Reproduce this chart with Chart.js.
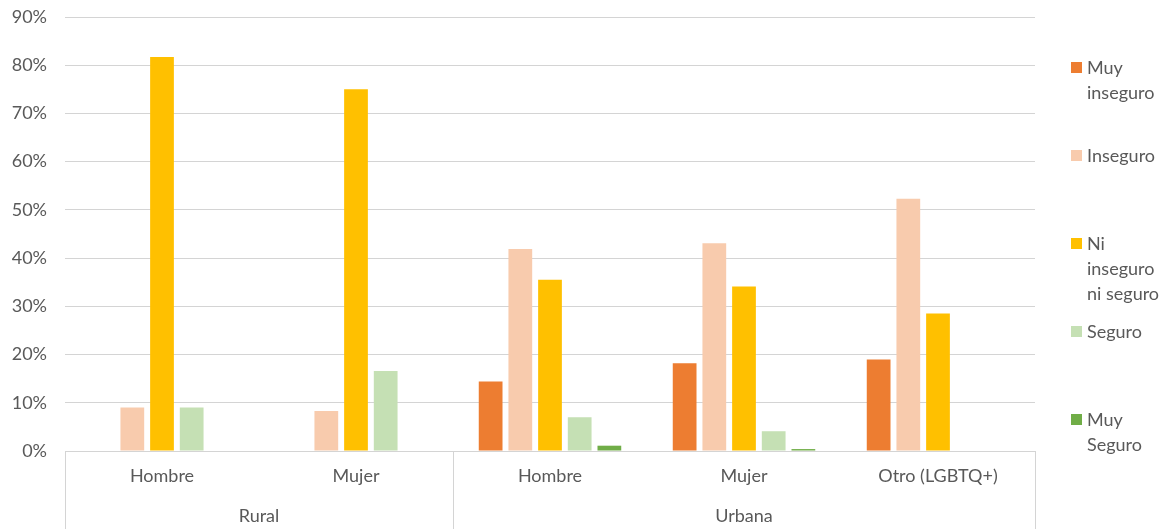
<!DOCTYPE html>
<html>
<head>
<meta charset="utf-8">
<script src="https://cdn.jsdelivr.net/npm/chart.js@4/dist/chart.umd.min.js"></script>
<style>
  html, body { margin: 0; padding: 0; background: #fff; }
  #wrap { position: relative; width: 1170px; height: 529px; overflow: hidden; }
  #legend { position: absolute; left: 1071px; top: 55px; font-family: Lato, "Open Sans", sans-serif; font-size: 18px; color: #595959; }
  .item { height: 88px; display: flex; align-items: flex-start; }
  .sw { width: 11px; height: 11px; margin-top: 7px; margin-right: 5px; flex: none; }
  .txt { width: 82px; line-height: 25px; margin-top: -0.5px; }
</style>
</head>
<body>
<div id="wrap">
  <canvas id="c" width="1170" height="529"></canvas>
  <div id="legend"></div>
</div>
<script>
const categories = ["Hombre", "Mujer", "Hombre", "Mujer", "Otro (LGBTQ+)"];
const groups = ["Rural", "Urbana"];
const groupSizes = [2, 3];
const seriesNames = ["Muy inseguro", "Inseguro", "Ni inseguro ni seguro", "Seguro", "Muy Seguro"];
const seriesColors = ["#ED7D31", "#F8CBAD", "#FFC000", "#C5E0B4", "#70AD47"];
const muyInseguro = [0, 0, 14.4, 18.2, 19.0];
const inseguro = [9.0, 8.3, 41.9, 43.1, 52.3];
const niInseguroNiSeguro = [81.7, 75.0, 35.5, 34.1, 28.5];
const seguro = [9.0, 16.6, 7.0, 4.1, 0];
const muySeguro = [0, 0, 1.1, 0.4, 0];
const yTicks = [0, 10, 20, 30, 40, 50, 60, 70, 80, 90];

const seriesValues = [muyInseguro, inseguro, niInseguroNiSeguro, seguro, muySeguro];
const FONT = 'Lato, "Open Sans", sans-serif';
const GRID = '#d4d4d4';
const TXT = '#595959';

const groupPlugin = {
  id: 'groupAxis',
  afterDraw(chart) {
    const ctx = chart.ctx;
    const xs = chart.scales.x;
    const area = chart.chartArea;
    const half = (xs.getPixelForValue(1) - xs.getPixelForValue(0)) / 2;
    const bottom = chart.height;
    ctx.save();
    ctx.strokeStyle = GRID;
    ctx.lineWidth = 1;
    let idx = 0;
    const edges = [xs.getPixelForValue(0) - half];
    const centers = [];
    groupSizes.forEach((n) => {
      const start = xs.getPixelForValue(idx) - half;
      const end = xs.getPixelForValue(idx + n - 1) + half;
      edges.push(end);
      centers.push((start + end) / 2);
      idx += n;
    });
    edges.forEach((x) => {
      const px = Math.round(x) + 0.5;
      ctx.beginPath();
      ctx.moveTo(px, area.bottom);
      ctx.lineTo(px, bottom);
      ctx.stroke();
    });
    ctx.fillStyle = TXT;
    ctx.font = '18px ' + FONT;
    ctx.textAlign = 'center';
    ctx.textBaseline = 'middle';
    groups.forEach((g, i) => {
      ctx.fillText(g, centers[i], area.bottom + 65);
    });
    ctx.restore();
  }
};

const chart = new Chart(document.getElementById('c'), {
  type: 'bar',
  data: {
    labels: categories,
    datasets: seriesNames.map((name, i) => ({
      label: name,
      data: seriesValues[i],
      backgroundColor: seriesColors[i],
      borderWidth: 0,
      categoryPercentage: 0.765,
      barPercentage: 0.8
    }))
  },
  options: {
    responsive: false,
    animation: false,
    devicePixelRatio: 1,
    layout: { padding: { top: 17, right: 135, bottom: 0, left: 0 } },
    plugins: { legend: { display: false }, tooltip: { enabled: false } },
    scales: {
      x: {
        grid: { display: false, drawTicks: false },
        border: { display: false },
        ticks: { color: TXT, font: { family: FONT, size: 18 }, padding: 14, maxRotation: 0, autoSkip: false },
        afterFit(s) { s.height = 78; s.paddingTop = 0; s.paddingBottom = 0; s.paddingLeft = 0; s.paddingRight = 0; }
      },
      y: {
        min: 0,
        max: 90,
        afterBuildTicks(s) { s.ticks = yTicks.map(v => ({ value: v })); },
        grid: { color: GRID, lineWidth: 1, drawTicks: false },
        border: { display: false },
        ticks: { color: TXT, font: { family: FONT, size: 18 }, padding: 18, callback: v => v + '%' },
        afterFit(s) { s.width = 65; s.paddingTop = 0; s.paddingBottom = 0; s.paddingLeft = 0; s.paddingRight = 0; }
      }
    }
  },
  plugins: [groupPlugin]
});

const legend = document.getElementById('legend');
chart.data.datasets.forEach((ds) => {
  const item = document.createElement('div');
  item.className = 'item';
  const sw = document.createElement('div');
  sw.className = 'sw';
  sw.style.background = ds.backgroundColor;
  const t = document.createElement('div');
  t.className = 'txt';
  t.textContent = ds.label;
  item.appendChild(sw);
  item.appendChild(t);
  legend.appendChild(item);
});
</script>
</body>
</html>
